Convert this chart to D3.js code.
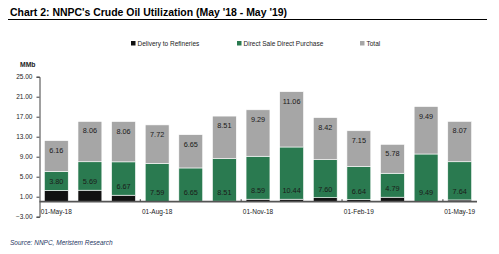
<!DOCTYPE html>
<html>
<head>
<meta charset="utf-8">
<script src="https://cdn.jsdelivr.net/npm/d3@7"></script>
<style>
  body { margin: 0; background: #fff; }
  text { font-family: "Liberation Sans", Arial, sans-serif; }
</style>
</head>
<body>
<div id="chart"></div>
<script>
// data
var months = ['01-May-18', '01-Jun-18', '01-Jul-18', '01-Aug-18', '01-Sep-18', '01-Oct-18', '01-Nov-18',
    '01-Dec-18', '01-Jan-19', '01-Feb-19', '01-Mar-19', '01-Apr-19', '01-May-19'];
var refineries = [2.25, 2.3, 1.3, 0.05, 0.1, 0.1, 0.5, 0.5, 0.8, 0.4, 0.9, 0.05, 0.35];
var dsdp = [3.80, 5.69, 6.67, 7.59, 6.65, 8.51, 8.59, 10.44, 7.60, 6.64, 4.79, 9.49, 7.64];
var total = [6.16, 8.06, 8.06, 7.72, 6.65, 8.51, 9.29, 11.06, 8.42, 7.15, 5.78, 9.49, 8.07];
var yTicks = [-3, 1, 5, 9, 13, 17, 21, 25];
var xLabelIdx = [0, 3, 6, 9, 12];

var seriesNames = ['Delivery to Refineries', 'Direct Sale Direct Purchase', 'Total'];
var colors = ['#111111', '#2a7a50', '#a6a6a6'];

var svgWidth = 499, svgHeight = 254;

var svg = d3.select('#chart').append('svg')
    .attr('width', svgWidth).attr('height', svgHeight);

// title + rule
svg.append('text')
    .attr('x', 10).attr('y', 16)
    .attr('font-size', 10.5).attr('font-weight', 'bold')
    .attr('textLength', 277).attr('lengthAdjust', 'spacingAndGlyphs')
    .text("Chart 2: NNPC's Crude Oil Utilization (May '18 - May '19)");
svg.append('line')
    .attr('x1', 8).attr('x2', 487).attr('y1', 19.5).attr('y2', 19.5)
    .attr('stroke', '#000').attr('stroke-width', 1.2);

// legend
var legendX = [131, 237, 360];
var legend = svg.selectAll('.legend').data(seriesNames).enter().append('g')
    .attr('class', 'legend')
    .attr('transform', function(d, i) { return 'translate(' + legendX[i] + ' 41)'; });
legend.append('rect').attr('width', 4.5).attr('height', 4.5)
    .attr('fill', function(d, i) { return colors[i]; });
legend.append('text').attr('x', 6.5).attr('y', 4.7)
    .attr('font-size', 6.5).attr('fill', '#222')
    .text(function(d) { return d; });

// scales
var x = d3.scaleBand().domain(months).range([39.5, 476.5])
    .paddingInner(0.29).paddingOuter(0.145);
var y = d3.scaleLinear().domain([-3, 25]).range([216.7, 76.7]);

// stacked data
var table = months.map(function(m, i) {
    return {month: m, a: refineries[i], b: dsdp[i], c: total[i]};
});
var stack = d3.stack().keys(['a', 'b', 'c']);
var layers = stack(table);

var g = svg.append('g');
g.selectAll('.layer').data(layers).enter().append('g')
    .attr('fill', function(d, i) { return colors[i]; })
    .selectAll('rect').data(function(d) { return d; }).enter().append('rect')
    .attr('x', function(d) { return x(d.data.month); })
    .attr('width', x.bandwidth())
    .attr('y', function(d) { return y(d[1]); })
    .attr('height', function(d) { return y(d[0]) - y(d[1]); })
    .attr('stroke', '#fff').attr('stroke-width', 0.6);

// green labels (inside base)
g.selectAll('.lblB').data(layers[1]).enter().append('text')
    .attr('x', function(d) { return x(d.data.month) + x.bandwidth() / 2; })
    .attr('y', function(d) { return y(d[0]) - 6; })
    .attr('text-anchor', 'middle').attr('font-size', 7.3).attr('fill', '#1a1a1a')
    .text(function(d) { return d.data.b.toFixed(2); });

// gray labels (inside end)
g.selectAll('.lblC').data(layers[2]).enter().append('text')
    .attr('x', function(d) { return x(d.data.month) + x.bandwidth() / 2; })
    .attr('y', function(d) { return y(d[1]) + 12; })
    .attr('text-anchor', 'middle').attr('font-size', 7.3).attr('fill', '#1a1a1a')
    .text(function(d) { return d.data.c.toFixed(2); });

// y axis
var yAxis = svg.append('g')
    .attr('transform', 'translate(39.5 0)')
    .call(d3.axisLeft(y).tickValues(yTicks).tickFormat(d3.format('.2f')).tickSize(3).tickSizeOuter(3));
yAxis.select('.domain').attr('stroke', '#404040');
yAxis.selectAll('.tick line').attr('stroke', '#404040');
yAxis.selectAll('.tick text').attr('font-size', 6.5).attr('fill', '#222')
    .attr('font-family', '"Liberation Sans", Arial, sans-serif').attr('x', -7);

svg.append('text').attr('x', 20).attr('y', 67)
    .attr('font-size', 6.8).attr('font-weight', 'bold').attr('fill', '#222')
    .text('MMb');

// x axis at zero
svg.append('line')
    .attr('x1', 39.5).attr('x2', 477).attr('y1', y(0)).attr('y2', y(0))
    .attr('stroke', '#555').attr('stroke-width', 1.8);
var step = x.step();
[3, 6, 9, 12].forEach(function(k) {
    var tx = 39.5 + k * step;
    svg.append('line').attr('x1', tx).attr('x2', tx)
        .attr('y1', y(0) - 2.5).attr('y2', y(0))
        .attr('stroke', '#555').attr('stroke-width', 1.2);
});
svg.selectAll('.xlab').data(xLabelIdx).enter().append('text')
    .attr('x', function(i) { return x(months[i]) + x.bandwidth() / 2; })
    .attr('y', 214)
    .attr('text-anchor', 'middle').attr('font-size', 6.5).attr('fill', '#222')
    .text(function(i) { return months[i]; });

// source
svg.append('text').attr('x', 10).attr('y', 245)
    .attr('font-size', 6.5).attr('font-style', 'italic').attr('fill', '#1f3864')
    .text('Source: NNPC, Meristem Research');
</script>
</body>
</html>
